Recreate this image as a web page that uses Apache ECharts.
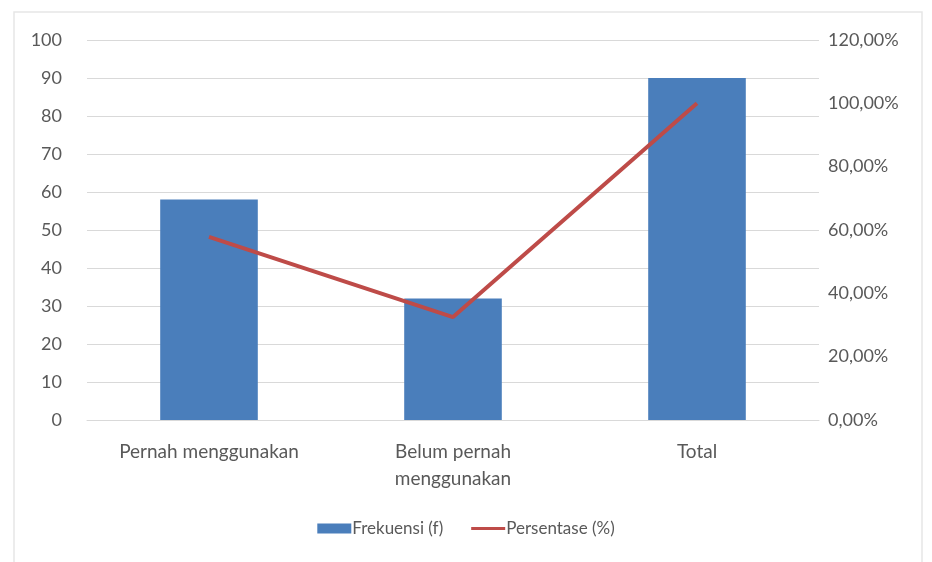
<!DOCTYPE html>
<html><head><meta charset="utf-8">
<script src="https://cdn.jsdelivr.net/npm/echarts@6/dist/echarts.min.js"></script>
<style>html,body{margin:0;padding:0;background:#fff}#c{width:932px;height:562px}</style>
</head><body><div id="c"></div>
<script>
const categories = ['Pernah menggunakan', 'Belum pernah\nmenggunakan', 'Total'];
const frekuensi = [58, 32, 90];
const persentase = [0.578, 0.325, 1.0];
const leftTicks = {min: 0, max: 100, interval: 10};
const rightTicks = {min: 0, max: 1.2, interval: 0.2};

const chart = echarts.init(document.getElementById('c'));
const font = 'Lato, "Open Sans", sans-serif';
chart.setOption({
  animation: false,
  textStyle: {fontFamily: font},
  graphic: [{type: 'rect', shape: {x: 14, y: 12, width: 908, height: 560}, style: {fill: 'none', stroke: '#e6e6e6', lineWidth: 1.5}, silent: true}],
  grid: {left: 87, right: 113, top: 40, bottom: 142},
  legend: {
    bottom: 20, left: 'center', itemGap: 28, itemWidth: 34, itemHeight: 10,
    textStyle: {color: '#595959', fontSize: 17, fontFamily: font, padding: [0, 0, 0, -4]},
    data: [{name: 'Frekuensi (f)', icon: 'rect'}, {name: 'Persentase (%)', icon: 'path://M0,4L34,4L34,7L0,7Z'}]
  },
  xAxis: {
    type: 'category', data: categories,
    axisLine: {lineStyle: {color: '#d9d9d9', width: 1}}, axisTick: {show: false},
    axisLabel: {color: '#595959', fontSize: 19, margin: 18, lineHeight: 27, interval: 0}
  },
  yAxis: [
    {type: 'value', min: leftTicks.min, max: leftTicks.max, interval: leftTicks.interval,
     axisLine: {show: false}, axisTick: {show: false},
     axisLabel: {color: '#595959', fontSize: 18, margin: 25},
     splitLine: {lineStyle: {color: '#d9d9d9', width: 1}}},
    {type: 'value', min: rightTicks.min, max: rightTicks.max, interval: rightTicks.interval,
     axisLine: {show: false}, axisTick: {show: false}, splitLine: {show: false},
     axisLabel: {color: '#595959', fontSize: 18, margin: 9,
       formatter: v => (v * 100).toFixed(2).replace('.', ',') + '%'}}
  ],
  series: [
    {name: 'Frekuensi (f)', type: 'bar', data: frekuensi, barWidth: '40%',
     itemStyle: {color: '#4a7ebb'}},
    {name: 'Persentase (%)', type: 'line', yAxisIndex: 1, data: persentase,
     symbol: 'none', lineStyle: {color: '#be4b48', width: 4}, itemStyle: {color: '#be4b48'}}
  ]
});
</script></body></html>
